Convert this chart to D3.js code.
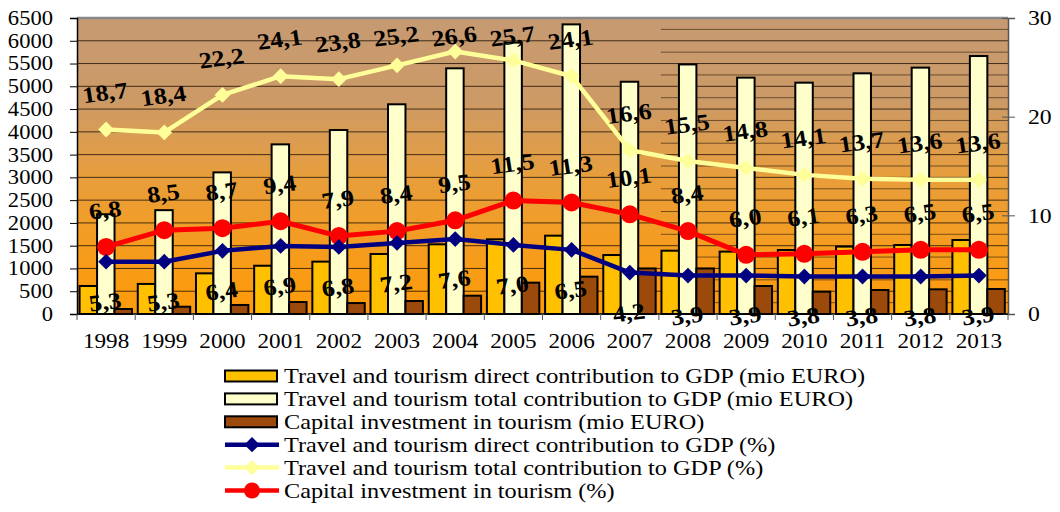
<!DOCTYPE html>
<html>
<head>
<meta charset="utf-8">
<script src="https://cdn.jsdelivr.net/npm/d3@7/dist/d3.min.js"></script>
<style>
  html, body { margin: 0; padding: 0; background: #fff; }
  svg { display: block; }
  text { font-family: "Liberation Serif", "Times New Roman", serif; }
</style>
</head>
<body>
<svg id="chart" width="1060" height="512"></svg>
<script>
// Years on the category axis
const years = ["1998","1999","2000","2001","2002","2003","2004","2005","2006","2007","2008","2009","2010","2011","2012","2013"];

// Bar series, million EUR (left axis)
const directEUR  = [615, 660, 893, 1060, 1150, 1318, 1530, 1640, 1720, 1295, 1390, 1370, 1405, 1480, 1515, 1625];
const totalEUR   = [2190, 2280, 3110, 3725, 4040, 4605, 5395, 5960, 6360, 5100, 5480, 5190, 5080, 5285, 5410, 5665];
const capitalEUR = [110, 160, 198, 263, 240, 285, 402, 688, 820, 1000, 1000, 615, 490, 527, 542, 549];

// Line series, % of GDP (right axis)
const directPct  = [5.3, 5.3, 6.4, 6.9, 6.8, 7.2, 7.6, 7.0, 6.5, 4.2, 3.9, 3.9, 3.8, 3.8, 3.8, 3.9];
const totalPct   = [18.7, 18.4, 22.2, 24.1, 23.8, 25.2, 26.6, 25.7, 24.1, 16.6, 15.5, 14.8, 14.1, 13.7, 13.6, 13.6];
const capitalPct = [6.8, 8.5, 8.7, 9.4, 7.9, 8.4, 9.5, 11.5, 11.3, 10.1, 8.4, 6.0, 6.1, 6.3, 6.5, 6.5];

// Axis ticks
const leftTicks  = [0, 500, 1000, 1500, 2000, 2500, 3000, 3500, 4000, 4500, 5000, 5500, 6000, 6500];
const minorTicks = [250, 750, 1250, 1750, 2250, 2750, 3250, 3750, 4250, 4750, 5250, 5750, 6250];
const rightTicks = [0, 10, 20, 30];

// Legend entries
const legendLabels = [
  "Travel and tourism direct contribution to GDP (mio EURO)",
  "Travel and tourism total contribution to GDP (mio EURO)",
  "Capital investment in tourism (mio EURO)",
  "Travel and tourism direct contribution to GDP (%)",
  "Travel and tourism total contribution to GDP (%)",
  "Capital investment in tourism (%)"
];

const svg = d3.select("#chart");
const plot = { left: 77, right: 1008, top: 18, bottom: 314 };
const STRETCH = 1.13; // horizontal widening of the serif text

const x = d3.scaleBand().domain(years).range([plot.left, plot.right]).paddingInner(0).paddingOuter(0);
const xSub = d3.scaleBand().domain(["direct", "total", "capital"])
  .range([2.6, x.bandwidth() - 3.2]).paddingInner(0);
const yL = d3.scaleLinear().domain([0, 6500]).range([plot.bottom, plot.top]);
const yR = d3.scaleLinear().domain([0, 30]).range([plot.bottom, plot.top]);

const colors = {
  directBar: "#FFC000", totalBar: "#FFFFCC", capitalBar: "#9C4A0C",
  directLine: "#000080", totalLine: "#FFFF99", capitalLine: "#FF0000"
};

// Widen text horizontally around its own anchor point
function stretch(sel) {
  sel.each(function () {
    const t = d3.select(this);
    const tx = +t.attr("x") || 0, ty = +t.attr("y") || 0;
    t.attr("transform", `translate(${tx},${ty}) scale(${STRETCH},1) translate(${-tx},${-ty})`);
  });
}

// Plot-area background gradient
const defs = svg.append("defs");
const grad = defs.append("linearGradient").attr("id", "bg").attr("x1", 0).attr("y1", 0).attr("x2", 0).attr("y2", 1);
[["0%", "#C69A72"], ["28%", "#CC9A66"], ["55%", "#E99E3A"], ["80%", "#F69C1C"], ["100%", "#FF9A08"]]
  .forEach(([o, c]) => grad.append("stop").attr("offset", o).attr("stop-color", c));

svg.append("rect")
  .attr("x", plot.left).attr("y", plot.top)
  .attr("width", plot.right - plot.left).attr("height", plot.bottom - plot.top)
  .attr("fill", "url(#bg)");

// Horizontal gridlines
svg.append("g").selectAll("line").data(leftTicks.filter(t => t > 0 && t < 6500)).join("line")
  .attr("x1", plot.left).attr("x2", plot.right)
  .attr("y1", d => yL(d)).attr("y2", d => yL(d))
  .attr("stroke", "#2a1a0a").attr("stroke-width", 1).attr("stroke-opacity", 0.85);

// Intermediate gridlines across the later years
svg.append("g").selectAll("line").data(minorTicks).join("line")
  .attr("x1", x("2008") + 2).attr("x2", plot.right)
  .attr("y1", d => yL(d)).attr("y2", d => yL(d))
  .attr("stroke", "#2a1a0a").attr("stroke-width", 1).attr("stroke-opacity", 0.6);

// Top border of the plot area
svg.append("line")
  .attr("x1", plot.left).attr("x2", plot.right)
  .attr("y1", plot.top).attr("y2", plot.top)
  .attr("stroke", "#888").attr("stroke-width", 2.5);

// Bars
const barSeries = [
  { key: "direct", values: directEUR, fill: colors.directBar },
  { key: "total", values: totalEUR, fill: colors.totalBar },
  { key: "capital", values: capitalEUR, fill: colors.capitalBar }
];
const gBars = svg.append("g");
barSeries.forEach(s => {
  gBars.append("g").selectAll("rect").data(years).join("rect")
    .attr("x", (d) => x(d) + xSub(s.key))
    .attr("width", xSub.bandwidth())
    .attr("y", (d, i) => yL(s.values[i]))
    .attr("height", (d, i) => yL(0) - yL(s.values[i]))
    .attr("fill", s.fill)
    .attr("stroke", "#000").attr("stroke-width", 2);
});

// Left axis
const axisL = svg.append("g").attr("transform", `translate(${plot.left},0)`)
  .call(d3.axisLeft(yL).tickValues(leftTicks).tickSize(7).tickPadding(17).tickFormat(d3.format("d")));
axisL.select(".domain").attr("stroke", "#000").attr("stroke-width", 1.5);
axisL.selectAll(".tick line").attr("stroke", "#000");
axisL.selectAll("text").attr("font-size", 20).attr("fill", "#000")
  .style("font-family", "'Liberation Serif', serif").call(stretch);

// Right axis
const axisR = svg.append("g").attr("transform", `translate(${plot.right},0)`)
  .call(d3.axisRight(yR).tickValues(rightTicks).tickSize(7).tickPadding(13));
axisR.select(".domain").attr("stroke", "#555").attr("stroke-width", 1.5);
axisR.selectAll(".tick line").attr("x1", -6).attr("stroke", "#555");
axisR.selectAll("text").attr("font-size", 21).attr("fill", "#000")
  .style("font-family", "'Liberation Serif', serif").call(stretch);

// Bottom axis: ticks on category boundaries
const axisB = svg.append("g").attr("transform", `translate(0,${plot.bottom})`);
axisB.append("line").attr("x1", plot.left).attr("x2", plot.right).attr("stroke", "#000").attr("stroke-width", 1.5);
axisB.selectAll("line.tk").data(years.concat(["end"])).join("line").attr("class", "tk")
  .attr("x1", (d, i) => plot.left + i * x.bandwidth()).attr("x2", (d, i) => plot.left + i * x.bandwidth())
  .attr("y1", 0).attr("y2", 6).attr("stroke", "#555");
axisB.selectAll("text").data(years).join("text")
  .attr("x", d => x(d) + x.bandwidth() / 2).attr("y", 34)
  .attr("text-anchor", "middle").attr("font-size", 20.5).text(d => d).call(stretch);

// Lines with markers
const cx = d => x(d) + x.bandwidth() / 2;
const lineSeries = [
  { values: totalPct, color: colors.totalLine, marker: "diamond", width: 4.5, size: 12 },
  { values: capitalPct, color: colors.capitalLine, marker: "circle", width: 5, size: 9 },
  { values: directPct, color: colors.directLine, marker: "diamond", width: 4.5, size: 12 }
];
const lineGen = d3.line().x(d => cx(d.year)).y(d => yR(d.v));
lineSeries.forEach(s => {
  const pts = years.map((yr, i) => ({ year: yr, v: s.values[i] }));
  svg.append("path").datum(pts).attr("d", lineGen)
    .attr("fill", "none").attr("stroke", s.color).attr("stroke-width", s.width)
    .attr("stroke-linejoin", "round");
  const g = svg.append("g");
  if (s.marker === "circle") {
    g.selectAll("circle").data(pts).join("circle")
      .attr("cx", d => cx(d.year)).attr("cy", d => yR(d.v)).attr("r", s.size)
      .attr("fill", s.color);
  } else {
    g.selectAll("path").data(pts).join("path")
      .attr("d", d3.symbol(d3.symbolDiamond2, s.size * s.size * 1.1))
      .attr("transform", d => `translate(${cx(d.year)},${yR(d.v)})`)
      .attr("fill", s.color);
  }
});

// Value labels (kept inside the chart area at the top)
const fmt = v => d3.format(".1f")(v).replace(".", ",");
const labelSets = [
  { values: totalPct, dy: -37 },
  { values: capitalPct, dy: -37 },
  { values: directPct, dy: 40 }
];
labelSets.forEach(s => {
  svg.append("g").selectAll("text").data(years).join("text")
    .attr("transform", (d, i) => {
      const ly = Math.max(yR(s.values[i]) + s.dy, 36);
      return `translate(${cx(d) - 1},${ly}) scale(${STRETCH},1) rotate(-8)`;
    })
    .attr("text-anchor", "middle").attr("dominant-baseline", "central")
    .attr("font-size", 23).attr("font-weight", "bold").attr("fill", "#000")
    .text((d, i) => fmt(s.values[i]));
});

// Legend
const legend = svg.append("g").attr("transform", "translate(225,376)");
const rowH = 22.9;
legendLabels.forEach((lbl, i) => {
  const g = legend.append("g").attr("transform", `translate(0,${i * rowH})`);
  if (i < 3) {
    g.append("rect").attr("x", 0).attr("y", -5.5).attr("width", 52).attr("height", 11)
      .attr("fill", [colors.directBar, colors.totalBar, colors.capitalBar][i])
      .attr("stroke", "#000").attr("stroke-width", 2);
  } else {
    const col = [colors.directLine, colors.totalLine, colors.capitalLine][i - 3];
    g.append("line").attr("x1", 0).attr("x2", 54).attr("stroke", col).attr("stroke-width", 4.5);
    if (i === 5) {
      g.append("circle").attr("cx", 27).attr("r", 8).attr("fill", col);
    } else {
      g.append("path").attr("d", d3.symbol(d3.symbolDiamond2, 150)).attr("transform", "translate(27,0)").attr("fill", col);
    }
  }
  g.append("text").attr("x", 59).attr("y", 0).attr("dominant-baseline", "central")
    .attr("font-size", 21.5).text(lbl).call(stretch);
});
</script>
</body>
</html>
